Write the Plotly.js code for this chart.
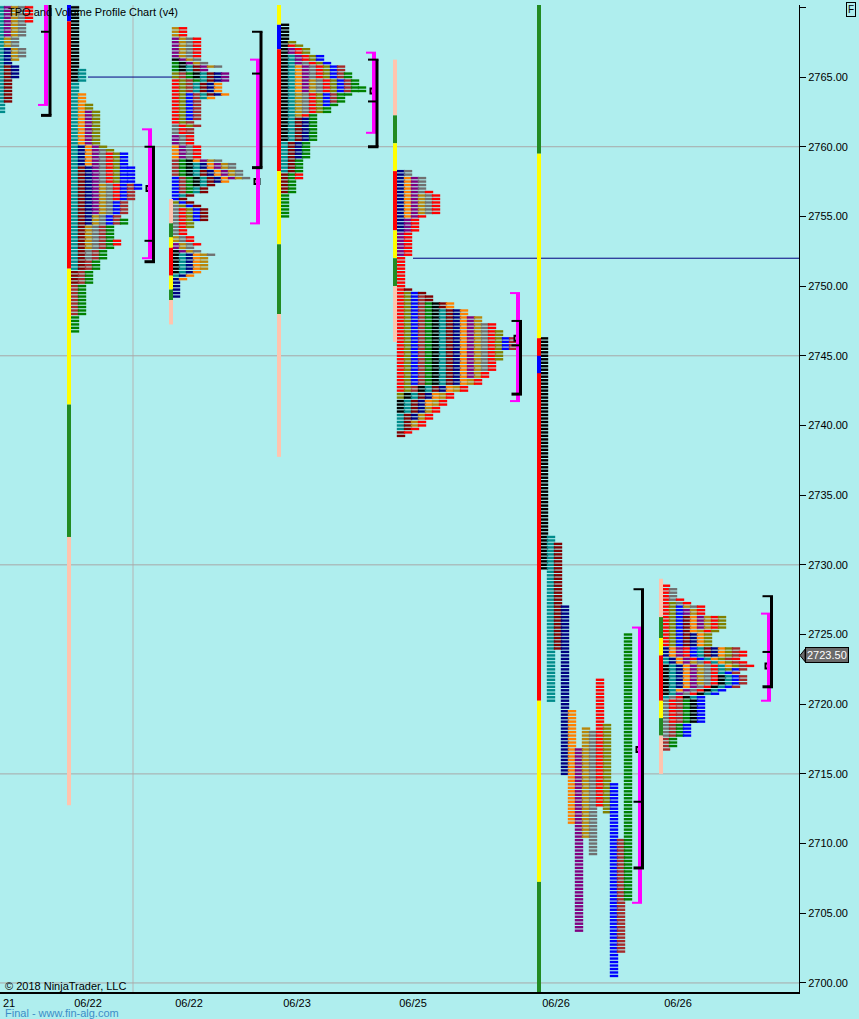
<!DOCTYPE html>
<html><head><meta charset="utf-8">
<script src="https://cdn.plot.ly/plotly-3.0.1.min.js"></script>
<style>html,body{margin:0;padding:0;background:#AFEEEE}</style>
</head><body>
<div id="chart" style="width:859px;height:1019px"></div>
<script>
// ---------------- DATA ----------------
// TPO period colours (cycle order)
const tpoPalette = ['#000000','#008B8B','#800000','#000080','#FF8000','#800080','#B8860B','#707070','#FF0000','#808000','#0000FF','#A52A2A','#008000'];

// periods per session: [colourIndex, high, low] in time order
const periodsA = [[1,2770.5,2762.5],[2,2765.75,2763.25],[3,2767.0,2765.0],[5,2770.5,2768.0],[6,2770.5,2766.25],[7,2770.5,2766.5],[8,2770.5,2769.0]];
const periodsB = [[0,2770.5,2764.75],[1,2765.5,2751.25],[2,2758.5,2750.25],[3,2760.0,2754.5],[4,2763.75,2758.75],[5,2762.5,2755.25],[6,2757.25,2752.75],[7,2759.75,2752.0],[8,2759.5,2756.25],[9,2763.0,2757.5],[10,2759.5,2754.5],[11,2757.25,2748.0],[12,2754.75,2746.75],[10,2758.5,2757.0],[8,2753.25,2753.0]];
const periodsC = [[0,2752.5,2751.0],[1,2752.25,2750.75],[3,2752.25,2749.25],[4,2752.25,2750.5],[5,2753.0,2752.5],[6,2753.5,2751.25],[7,2755.75,2752.25],[8,2755.5,2753.0],[9,2756.0,2754.25],[10,2757.75,2754.75],[11,2759.0,2756.75],[12,2759.0,2756.75],[0,2759.0,2757.25],[1,2758.75,2756.5],[2,2758.25,2754.75],[3,2758.75,2757.5],[4,2760.0,2757.5],[5,2760.75,2757.75],[6,2759.0,2757.75],[7,2761.5,2757.75],[8,2764.75,2759.25],[9,2765.25,2761.5],[10,2763.75,2762.0],[11,2765.25,2761.0],[12,2766.0,2764.75],[0,2766.25,2765.0],[1,2765.75,2763.5],[2,2765.75,2763.75],[3,2765.25,2763.75],[4,2764.5,2763.5],[5,2767.75,2764.75],[6,2768.5,2765.75],[7,2767.75,2765.75],[8,2768.5,2766.5]];
const periodsD = [[0,2768.75,2760.5],[1,2766.5,2758.25],[2,2762.0,2756.75],[3,2762.0,2759.25],[4,2765.75,2764.0],[5,2767.0,2764.0],[6,2764.75,2762.25],[7,2766.0,2762.5],[8,2767.25,2762.25],[9,2767.5,2762.5],[10,2766.5,2763.0],[11,2765.75,2763.25],[12,2765.25,2755.0],[12,2764.25,2763.75],[8,2758.0,2757.75]];
const periodsE = [[3,2758.25,2754.0],[4,2757.75,2755.0],[5,2757.75,2752.25],[6,2756.5,2755.25],[7,2758.25,2755.25],[8,2756.75,2742.5],[9,2749.5,2742.0],[10,2749.5,2743.0],[11,2749.25,2742.5],[12,2748.75,2743.0],[0,2748.75,2741.0],[1,2748.25,2739.75],[2,2749.75,2739.25],[3,2748.25,2740.5],[4,2748.75,2741.5],[5,2747.75,2743.5],[6,2747.75,2740.0],[7,2747.25,2744.0],[8,2747.25,2739.5],[9,2746.75,2744.75],[10,2746.25,2745.5],[11,2746.25,2745.5]];
const periodsF = [[0,2746.25,2729.75],[1,2732.0,2720.25],[2,2731.5,2724.0],[3,2727.0,2715.0],[4,2719.5,2711.5],[5,2716.75,2703.75],[6,2718.25,2710.5],[7,2718.0,2709.25],[8,2721.75,2712.75],[9,2718.5,2712.25],[10,2714.25,2700.5],[11,2710.25,2702.25],[12,2725.0,2706.0]];
const periodsG = [[0,2722.75,2720.75],[1,2723.25,2720.5],[3,2724.0,2721.25],[4,2724.0,2721.0],[5,2724.0,2720.75],[6,2723.0,2721.5],[7,2723.0,2717.75],[8,2728.5,2718.75],[9,2727.25,2724.25],[10,2727.0,2723.25],[11,2720.25,2716.75],[12,2720.25,2717.0],[0,2722.0,2718.75],[1,2724.0,2720.5],[2,2726.25,2723.5],[3,2725.0,2723.5],[4,2726.25,2722.75],[5,2726.75,2725.5],[6,2727.0,2725.25],[7,2728.25,2727.0],[8,2727.5,2725.25],[9,2726.25,2722.5],[10,2722.5,2717.75],[11,2724.0,2721.25],[8,2723.75,2722.75]];
const splitProfile = [false,false,false,false,false,true,false];

// session range bars: [band, high, low]
const bandColours = {P:'#FFC4AE', G:'#228B22', Y:'#FFFF00', R:'#FF0000', B:'#0000FF'};
const barB = [['B',2770.5,2769.0],['R',2769.0,2751.25],['Y',2751.25,2741.5],['G',2741.5,2732.0],['P',2732.0,2712.75]];
const barC = [['P',2756.25,2754.5],['G',2754.5,2753.5],['Y',2753.5,2752.75],['R',2752.75,2750.75],['Y',2750.75,2749.75],['G',2749.75,2749.0],['P',2749.0,2747.25]];
const barD = [['Y',2770.5,2768.75],['B',2768.75,2767.0],['R',2767.0,2758.25],['Y',2758.25,2753.0],['G',2753.0,2748.0],['P',2748.0,2737.75]];
const barE = [['P',2766.25,2762.25],['G',2762.25,2760.25],['Y',2760.25,2758.25],['R',2758.25,2754.0],['Y',2754.0,2752.0],['G',2752.0,2750.0],['P',2750.0,2746.0]];
const barF = [['G',2770.5,2759.5],['Y',2759.5,2746.25],['R',2746.25,2720.25],['B',2745.0,2743.75],['Y',2720.25,2707.25],['G',2707.25,2699.0]];
const barG = [['P',2729.0,2726.25],['G',2726.25,2724.75],['Y',2724.75,2723.5],['R',2723.5,2720.25],['Y',2720.25,2719.0],['G',2719.0,2717.75],['P',2717.75,2715.0]];

// value-area brackets and POC
const vaBlackHigh = [2770.5, 2760.0, 2768.25, 2766.25, 2747.5, 2728.25, 2727.75];
const vaBlackLow  = [2762.25, 2751.75, 2758.5, 2760.0, 2742.25, 2708.25, 2721.25];
const vaMagHigh   = [2770.5, 2761.25, 2766.25, 2766.75, 2749.5, 2725.5, 2726.5];
const vaMagLow    = [2763.0, 2752.0, 2754.5, 2761.0, 2741.75, 2705.75, 2720.25];
const pocPrice    = [null, 2757.0, 2757.5, 2764.0, 2746.25, 2716.75, 2722.75];
const ibTicks     = [[2768.25],[2753.25],[2765.25],[2763.25],[2745.75],[2713.0],[2723.75]];
const nakedPoc    = [2765.0, 2752.0];
const gridPrices  = [2700, 2715, 2730, 2745, 2760];
const yTickValues = [2700, 2705, 2710, 2715, 2720, 2725, 2730, 2735, 2740, 2745, 2750, 2755, 2760, 2765, 2770];
const yTickLabels = ['2700.00','2705.00','2710.00','2715.00','2720.00','2725.00','2730.00','2735.00','2740.00','2745.00','2750.00','2755.00','2760.00','2765.00',''];
const xTickLabels = ['21','06/22','06/22','06/23','06/25','06/26','06/26'];
const lastPrice   = 2723.50;

// ---------------- LAYOUT POSITIONS (slot units = px) ----------------
const pos = {
  profileStart: [-2, 72, 173, 282, 398, 541, 663],
  barX: [null, 67, 169, 277, 393, 537, 659],
  magX: [46, 150, 258, 374, 518, 640, 769],
  blkX: [50, 153.5, 261, 377, 520.5, 642.5, 771.5],
  nakedSpan: [[88,172],[413,799]],
  separators: [133],
  xTickPos: [6, 88, 189, 297, 413, 556, 678],
  pitch: 7
};

// ---------------- BUILD ----------------
const periodsAll = [periodsA, periodsB, periodsC, periodsD, periodsE, periodsF, periodsG];
const bars = [null, barB, barC, barD, barE, barF, barG];
const traces = [];

periodsAll.forEach((periods, s) => {
  const xs = [], ys = [], cs = [];
  const counts = {};
  periods.forEach((p, i) => {
    const [ci, hi, lo] = p;
    for (let k = Math.round(hi * 4); k >= Math.round(lo * 4); k--) {
      let col;
      if (splitProfile[s]) col = i;
      else { col = counts[k] || 0; counts[k] = col + 1; }
      xs.push(pos.profileStart[s] + col * pos.pitch + 3);
      ys.push(k / 4);
      cs.push(tpoPalette[ci]);
    }
  });
  traces.push({
    type: 'scatter', mode: 'markers', x: xs, y: ys, hoverinfo: 'skip', showlegend: false,
    marker: {symbol: 'line-ew', size: 6, color: cs, line: {width: 2.4, color: cs}}
  });
});

const shapes = [];
gridPrices.forEach(p => shapes.push({type:'line', xref:'x', yref:'y', x0:0, x1:799, y0:p, y1:p, layer:'below', line:{color:'#A8A8A8', width:1}}));
pos.separators.forEach(x => shapes.push({type:'line', xref:'x', yref:'paper', x0:x, x1:x, y0:0, y1:1, layer:'below', line:{color:'#B4B4B4', width:1}}));
nakedPoc.forEach((p, i) => shapes.push({type:'line', xref:'x', yref:'y', x0:pos.nakedSpan[i][0], x1:pos.nakedSpan[i][1], y0:p, y1:p, line:{color:'#000080', width:1}}));

bars.forEach((bar, s) => {
  if (!bar) return;
  const x = pos.barX[s];
  bar.forEach(seg => shapes.push({type:'rect', xref:'x', yref:'y', x0:x, x1:x + 4, y0:seg[2], y1:seg[1], fillcolor:bandColours[seg[0]], line:{width:0}}));
});

function hl(x0, x1, y, c, w) { return {type:'line', xref:'x', yref:'y', x0, x1, y0:y, y1:y, line:{color:c, width:w}}; }
function vl(x, y0, y1, c, w) { return {type:'line', xref:'x', yref:'y', x0:x, x1:x, y0, y1, line:{color:c, width:w}}; }

const pocX = [], pocY = [];
for (let s = 0; s < 7; s++) {
  const m = pos.magX[s], b = pos.blkX[s];
  shapes.push(vl(m, vaMagLow[s], vaMagHigh[s], '#FF00FF', 4));
  shapes.push(hl(m - 8, m + 2, vaMagHigh[s], '#FF00FF', 2));
  shapes.push(hl(m - 8, m + 2, vaMagLow[s], '#FF00FF', 2));
  shapes.push(vl(b, vaBlackLow[s], vaBlackHigh[s], '#000000', 3));
  shapes.push(hl(b - 9, b + 1.5, vaBlackHigh[s], '#000000', 2));
  shapes.push(hl(b - 9, b + 1.5, vaBlackLow[s], '#000000', 3));
  ibTicks[s].forEach(p => shapes.push(hl(b - 9, b, p, '#000000', 2)));
  if (pocPrice[s] !== null) { pocX.push(m - 1); pocY.push(pocPrice[s]); }
}
traces.push({type:'scatter', mode:'markers', x:pocX, y:pocY, hoverinfo:'skip', showlegend:false,
  marker:{symbol:'square', size:5, color:'#FFFFFF', line:{color:'#000000', width:2}}});

// last price arrow
shapes.push({type:'path', xref:'paper', yref:'y', path:'M 1.00125,' + lastPrice + ' L 1.0076,' + (lastPrice + 0.45) + ' L 1.0076,' + (lastPrice - 0.45) + ' Z', fillcolor:'#6A6A6A', line:{color:'#000000', width:1}});

const fontFam = 'Liberation Sans, Arial, sans-serif';
const annotations = [
  {xref:'paper', yref:'paper', x:6/799, y:(992-12)/987, xanchor:'left', yanchor:'middle', showarrow:false, text:'TPO and Volume Profile Chart (v4)', font:{family:fontFam, size:11, color:'#000'}},
  {xref:'paper', yref:'paper', x:3/799, y:(992-986)/987, xanchor:'left', yanchor:'middle', showarrow:false, text:'© 2018 NinjaTrader, LLC', font:{family:fontFam, size:11, color:'#000'}},
  {xref:'paper', yref:'paper', x:3/799, y:(992-1013)/987, xanchor:'left', yanchor:'middle', showarrow:false, text:'Final - www.fin-alg.com', font:{family:fontFam, size:11, color:'#3C8DC8'}},
  {xref:'paper', yref:'paper', x:1/799, y:(992-1002.5)/987, xanchor:'left', yanchor:'middle', showarrow:false, text:xTickLabels[0], font:{family:fontFam, size:11, color:'#000'}},
  {xref:'paper', yref:'paper', x:851/799, y:(992-9)/987, xanchor:'center', yanchor:'middle', showarrow:false, text:'F', bordercolor:'#000', borderwidth:1, borderpad:1, font:{family:fontFam, size:10, color:'#000'}},
  {xref:'paper', yref:'y', x:805/799, y:lastPrice, xanchor:'left', yanchor:'middle', showarrow:false, text:lastPrice.toFixed(2), bgcolor:'#6A6A6A', bordercolor:'#000', borderwidth:1, borderpad:1, font:{family:fontFam, size:11, color:'#FFFFFF'}}
];

const layout = {
  width: 859, height: 1019,
  margin: {l:0, r:60, t:5, b:27, pad:0},
  paper_bgcolor: '#AFEEEE', plot_bgcolor: '#AFEEEE',
  showlegend: false,
  xaxis: {range:[0,799], showgrid:false, zeroline:false, showline:true, linecolor:'#000', linewidth:1.5,
    tickmode:'array', tickvals:pos.xTickPos.slice(1), ticktext:xTickLabels.slice(1), ticks:'', tickfont:{family:fontFam, size:11, color:'#000'}, fixedrange:true},
  yaxis: {side:'right', range:[2699.35, 2770.17], showgrid:false, zeroline:false, showline:true, linecolor:'#000', linewidth:1,
    tickmode:'array', tickvals:yTickValues, ticktext:yTickLabels, ticks:'outside', ticklen:6, tickcolor:'#000', tickfont:{family:fontFam, size:11, color:'#000'}, fixedrange:true},
  shapes, annotations
};

Plotly.newPlot('chart', traces, layout, {displayModeBar:false, staticPlot:true});
</script>
</body></html>
